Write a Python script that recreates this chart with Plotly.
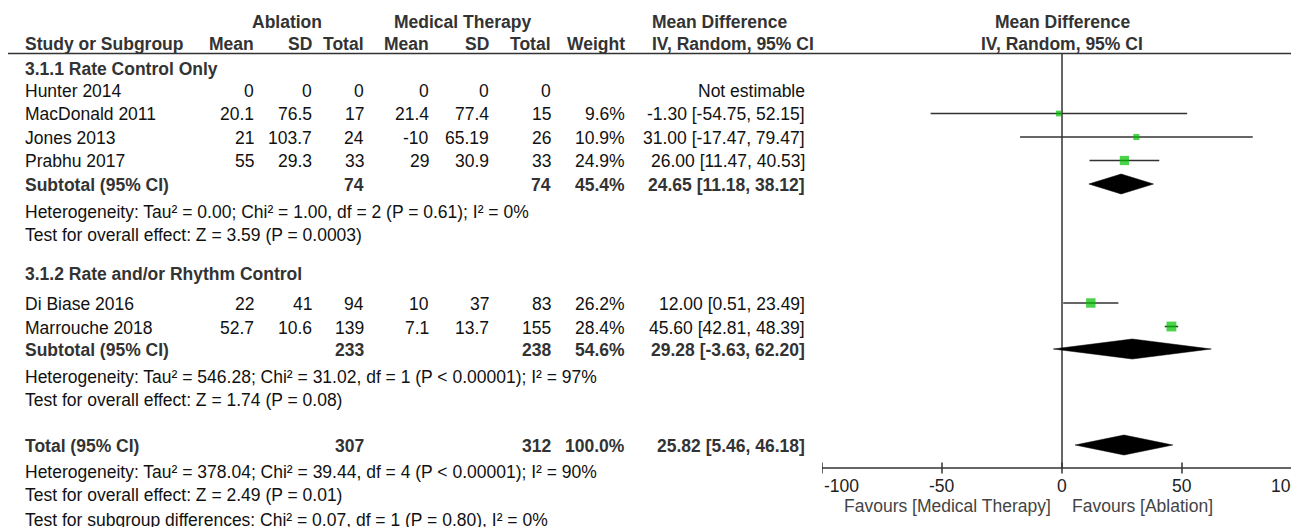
import plotly.graph_objects as go
import numpy as np

W, H = 1299, 527          # browser window
OFF = 8                   # default <body> margin in the page plotly writes

# ---------------- data ----------------
g1_name = "3.1.1 Rate Control Only"
g1_studies = ["Hunter 2014", "MacDonald 2011", "Jones 2013", "Prabhu 2017"]
g1_abl_mean = [0, 20.1, 21, 55]
g1_abl_sd = [0, 76.5, 103.7, 29.3]
g1_abl_n = [0, 17, 24, 33]
g1_med_mean = [0, 21.4, -10, 29]
g1_med_sd = [0, 77.4, 65.19, 30.9]
g1_med_n = [0, 15, 26, 33]
g1_weight = [None, 9.6, 10.9, 24.9]
g1_md = [None, -1.30, 31.00, 26.00]
g1_lo = [None, -54.75, -17.47, 11.47]
g1_hi = [None, 52.15, 79.47, 40.53]
g1_sub = dict(abl_n=74, med_n=74, weight=45.4, md=24.65, lo=11.18, hi=38.12)
g1_het = "Heterogeneity: Tau² = 0.00; Chi² = 1.00, df = 2 (P = 0.61); I² = 0%"
g1_test = "Test for overall effect: Z = 3.59 (P = 0.0003)"

g2_name = "3.1.2 Rate and/or Rhythm Control"
g2_studies = ["Di Biase 2016", "Marrouche 2018"]
g2_abl_mean = [22, 52.7]
g2_abl_sd = [41, 10.6]
g2_abl_n = [94, 139]
g2_med_mean = [10, 7.1]
g2_med_sd = [37, 13.7]
g2_med_n = [83, 155]
g2_weight = [26.2, 28.4]
g2_md = [12.00, 45.60]
g2_lo = [0.51, 42.81]
g2_hi = [23.49, 48.39]
g2_sub = dict(abl_n=233, med_n=238, weight=54.6, md=29.28, lo=-3.63, hi=62.20)
g2_het = "Heterogeneity: Tau² = 546.28; Chi² = 31.02, df = 1 (P < 0.00001); I² = 97%"
g2_test = "Test for overall effect: Z = 1.74 (P = 0.08)"

total = dict(abl_n=307, med_n=312, weight=100.0, md=25.82, lo=5.46, hi=46.18)
tot_het = "Heterogeneity: Tau² = 378.04; Chi² = 39.44, df = 4 (P < 0.00001); I² = 90%"
tot_test = "Test for overall effect: Z = 2.49 (P = 0.01)"
sub_test = "Test for subgroup differences: Chi² = 0.07, df = 1 (P = 0.80), I² = 0%"

x_ticks = [-100, -50, 0, 50, 100]
fav_left = "Favours [Medical Therapy]"
fav_right = "Favours [Ablation]"

# ---------------- layout constants ----------------
FONT = "Liberation Sans, Arial, sans-serif"
FS = 17.5
TXT = "#111111"
BTXT = "#333333"
GREEN = "#00c000"
LINE = "#333333"

FW, FH = W - OFF, H - OFF   # figure size so that it ends at the window edge

# column right edges (window px)
COL = dict(abl_mean=256, abl_sd=314, abl_n=366, med_mean=431, med_sd=491,
           med_n=553, weight=627, ci=807)
X_LEFT = 23
ZERO_PX, PX_PER_UNIT = 1062, 2.4
AX_LEFT_PX = ZERO_PX - 100 * PX_PER_UNIT

# row y positions (window px, centre)
Y_H1, Y_H2, Y_LINE = 21, 43, 53.5
Y_G1 = 68
Y_G1_ROWS = [90, 113.5, 137, 160.5]
Y_G1_SUB = 184
Y_G1_HET, Y_G1_TEST = 211, 234
Y_G2 = 273
Y_G2_ROWS = [303, 326.5]
Y_G2_SUB = 349
Y_G2_HET, Y_G2_TEST = 376, 399
Y_TOT = 445
Y_TOT_HET, Y_TOT_TEST, Y_SUBTEST = 471, 494, 519
Y_AXIS = 468

ann = []


def px(x):
    return (x - OFF) / FW


def py(y):
    return 1 - (y - OFF) / FH


def text(x, y, s, anchor="right", bold=False, color=None, dy=1.0):
    ann.append(dict(x=px(x), y=py(y + dy), xref="paper", yref="paper",
                    text=f"<b>{s}</b>" if bold else s, showarrow=False,
                    xanchor=anchor, yanchor="middle",
                    font=dict(family=FONT, size=FS,
                              color=color or (BTXT if bold else TXT))))


def fmt(v):
    return f"{v}"


# headers
text(287, Y_H1, "Ablation", "center", True)
text(462, Y_H1, "Medical Therapy", "center", True)
text(650, Y_H1, "Mean Difference", "left", True)
text(ZERO_PX, Y_H1, "Mean Difference", "center", True)
text(X_LEFT, Y_H2, "Study or Subgroup", "left", True)
for key, lab in [("abl_mean", "Mean"), ("abl_sd", "SD"), ("abl_n", "Total"),
                 ("med_mean", "Mean"), ("med_sd", "SD"), ("med_n", "Total"),
                 ("weight", "Weight")]:
    text(COL[key], Y_H2, lab, "right", True)
text(650, Y_H2, "IV, Random, 95% CI", "left", True)
text(ZERO_PX, Y_H2, "IV, Random, 95% CI", "center", True)


def study_rows(ys, names, am, asd, an, mm, msd, mn, wt, md, lo, hi):
    for i, y in enumerate(ys):
        text(X_LEFT, y, names[i], "left")
        text(COL["abl_mean"], y, fmt(am[i]))
        text(COL["abl_sd"], y, fmt(asd[i]))
        text(COL["abl_n"], y, fmt(an[i]))
        text(COL["med_mean"], y, fmt(mm[i]))
        text(COL["med_sd"], y, fmt(msd[i]))
        text(COL["med_n"], y, fmt(mn[i]))
        if wt[i] is None:
            text(COL["ci"], y, "Not estimable")
        else:
            text(COL["weight"], y, f"{wt[i]:.1f}%")
            text(COL["ci"], y, f"{md[i]:.2f} [{lo[i]:.2f}, {hi[i]:.2f}]")


def summary_row(y, label, d):
    text(X_LEFT, y, label, "left", True)
    text(COL["abl_n"], y, fmt(d["abl_n"]), bold=True)
    text(COL["med_n"], y, fmt(d["med_n"]), bold=True)
    text(COL["weight"], y, f"{d['weight']:.1f}%", bold=True)
    text(COL["ci"], y, f"{d['md']:.2f} [{d['lo']:.2f}, {d['hi']:.2f}]", bold=True)


text(X_LEFT, Y_G1, g1_name, "left", True)
study_rows(Y_G1_ROWS, g1_studies, g1_abl_mean, g1_abl_sd, g1_abl_n, g1_med_mean,
           g1_med_sd, g1_med_n, g1_weight, g1_md, g1_lo, g1_hi)
summary_row(Y_G1_SUB, "Subtotal (95% CI)", g1_sub)
text(X_LEFT, Y_G1_HET, g1_het, "left")
text(X_LEFT, Y_G1_TEST, g1_test, "left")

text(X_LEFT, Y_G2, g2_name, "left", True)
study_rows(Y_G2_ROWS, g2_studies, g2_abl_mean, g2_abl_sd, g2_abl_n, g2_med_mean,
           g2_med_sd, g2_med_n, g2_weight, g2_md, g2_lo, g2_hi)
summary_row(Y_G2_SUB, "Subtotal (95% CI)", g2_sub)
text(X_LEFT, Y_G2_HET, g2_het, "left")
text(X_LEFT, Y_G2_TEST, g2_test, "left")

summary_row(Y_TOT, "Total (95% CI)", total)
text(X_LEFT, Y_TOT_HET, tot_het, "left")
text(X_LEFT, Y_TOT_TEST, tot_test, "left")
text(X_LEFT, Y_SUBTEST, sub_test, "left")

# ---------------- forest panel ----------------
fig = go.Figure()

est_md, est_lo, est_hi, est_w, est_y = [], [], [], [], []
for ys, md, lo, hi, wt in [(Y_G1_ROWS, g1_md, g1_lo, g1_hi, g1_weight),
                           (Y_G2_ROWS, g2_md, g2_lo, g2_hi, g2_weight)]:
    for i, y in enumerate(ys):
        if md[i] is not None:
            est_md.append(md[i]); est_lo.append(lo[i]); est_hi.append(hi[i])
            est_w.append(wt[i]); est_y.append(y)

# zero line
fig.add_trace(go.Scatter(x=[0, 0], y=[Y_LINE, Y_AXIS], mode="lines",
                         line=dict(color=LINE, width=1.5), hoverinfo="skip"))

# CI whiskers
cx, cy = [], []
for lo, hi, y in zip(est_lo, est_hi, est_y):
    cx += [lo, hi, None]
    cy += [y, y, None]
fig.add_trace(go.Scatter(x=cx, y=cy, mode="lines",
                         line=dict(color="#333333", width=1.6), hoverinfo="skip"))

# squares
fig.add_trace(go.Scatter(x=est_md, y=est_y, mode="markers",
                         marker=dict(symbol="square", color=GREEN,
                                     size=[1.85 * np.sqrt(w) for w in est_w],
                                     line=dict(width=0)),
                         hoverinfo="skip"))

# diamonds
DH = 10
for y, d in [(Y_G1_SUB, g1_sub), (Y_G2_SUB, g2_sub), (Y_TOT, total)]:
    fig.add_trace(go.Scatter(x=[d["lo"], d["md"], d["hi"], d["md"], d["lo"]],
                             y=[y, y - DH, y, y + DH, y], mode="lines",
                             fill="toself", fillcolor="black",
                             line=dict(color="black", width=0.5), hoverinfo="skip"))

# axis line + ticks
fig.add_trace(go.Scatter(x=[x_ticks[0], x_ticks[-1]], y=[Y_AXIS, Y_AXIS], mode="lines",
                         line=dict(color=LINE, width=1.5), hoverinfo="skip"))
tx, ty = [], []
for t in x_ticks:
    tx += [t, t, None]
    ty += [Y_AXIS - 5.5, Y_AXIS + 5.5, None]
fig.add_trace(go.Scatter(x=tx, y=ty, mode="lines",
                         line=dict(color=LINE, width=1.5), hoverinfo="skip"))

# tick labels (end labels aligned inwards, RevMan style)
x_end = (W - ZERO_PX) / PX_PER_UNIT
for i, t in enumerate(x_ticks):
    if i == 0:
        anchor, xv, shift = "left", t, 0
    elif i == len(x_ticks) - 1:
        # tick sits just past the window edge: anchor inside the range, shift out
        xv = x_end - 0.05
        anchor, shift = "right", (t - xv) * PX_PER_UNIT
    else:
        anchor, xv, shift = "center", t, 0
    ann.append(dict(x=xv, y=486, xref="x", yref="y", text=str(t), showarrow=False,
                    xanchor=anchor, xshift=shift, yanchor="middle",
                    font=dict(family=FONT, size=FS, color="#222222")))

ann.append(dict(x=0, y=506, xref="x", yref="y", text=fav_left, showarrow=False,
                xanchor="right", xshift=-9, yanchor="middle",
                font=dict(family=FONT, size=FS, color="#444444")))
ann.append(dict(x=0, y=506, xref="x", yref="y", text=fav_right, showarrow=False,
                xanchor="left", xshift=8, yanchor="middle",
                font=dict(family=FONT, size=FS, color="#444444")))

fig.update_layout(
    width=FW, height=FH, autosize=False,
    margin=dict(l=0, r=0, t=0, b=0),
    paper_bgcolor="white", plot_bgcolor="white",
    showlegend=False,
    xaxis=dict(domain=[px(AX_LEFT_PX), 1], range=[x_ticks[0], x_end], visible=False,
               fixedrange=True),
    yaxis=dict(domain=[0, 1], range=[H, OFF], visible=False, fixedrange=True),
    annotations=ann,
    shapes=[dict(type="line", xref="paper", yref="paper", x0=px(8), x1=1,
                 y0=py(Y_LINE), y1=py(Y_LINE), line=dict(color=LINE, width=1.5))],
)

fig.write_html("out.html")
